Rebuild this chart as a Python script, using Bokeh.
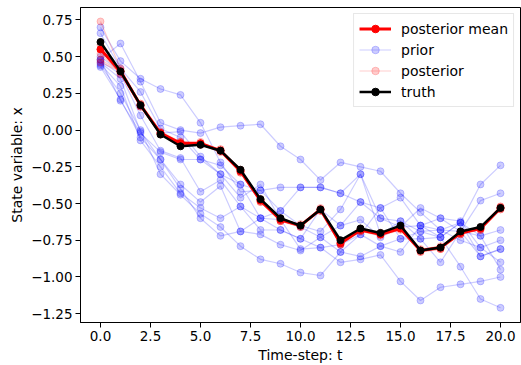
from bokeh.plotting import figure
from bokeh.models import Range1d, FixedTicker, Legend, LegendItem
from bokeh.embed import file_html
from bokeh.resources import INLINE

t = list(range(21))

truth = [0.60, 0.40, 0.17, -0.03, -0.11, -0.10, -0.14, -0.27, -0.47, -0.60, -0.65,
         -0.54, -0.75, -0.67, -0.70, -0.65, -0.82, -0.80, -0.69, -0.66, -0.53]
posterior_mean = [0.55, 0.40, 0.17, -0.02, -0.09, -0.09, -0.14, -0.28, -0.48, -0.61, -0.65,
                  -0.54, -0.77, -0.68, -0.71, -0.67, -0.82, -0.80, -0.70, -0.67, -0.53]

prior_1 = [0.70, 0.47, 0.35, 0.28, 0.24, 0.05, -0.22, -0.42, -0.41, -0.39, -0.39, -0.39, -0.43, -0.49, -0.53, -0.46, -0.65, -0.60, -0.69, -0.48, -0.43]
prior_2 = [0.48, 0.59, 0.33, 0.05, 0.00, -0.02, 0.02, 0.03, 0.04, -0.11, -0.20, -0.34, -0.22, -0.25, -0.28, -0.43, -0.56, -0.68, -0.63, -0.37, -0.24]
prior_3 = [0.66, 0.42, 0.26, 0.01, -0.05, -0.20, -0.24, -0.37, -0.60, -0.55, -0.65, -0.69, -0.54, -0.30, -0.60, -0.62, -0.74, -0.73, -0.63, -0.72, -0.68]
prior_4 = [0.50, 0.40, 0.16, -0.02, -0.01, -0.18, -0.30, -0.46, -0.37, -0.61, -0.66, -0.73, -0.65, -0.61, -0.73, -0.66, -0.53, -0.60, -0.62, -0.80, -0.75]
prior_5 = [0.47, 0.38, 0.10, -0.14, -0.19, -0.42, -0.34, -0.52, -0.68, -0.68, -0.74, -0.80, -0.78, -0.71, -0.53, -0.74, -0.69, -0.68, -0.69, -0.86, -0.81]
prior_6 = [0.46, 0.35, -0.01, -0.20, -0.37, -0.49, -0.38, -0.69, -0.71, -0.78, -0.82, -0.73, -0.83, -0.86, -0.79, -0.83, -0.65, -0.73, -0.93, -1.15, -1.21]
prior_7 = [0.45, 0.30, -0.07, -0.25, -0.43, -0.53, -0.60, -0.52, -0.60, -0.61, -0.81, -0.80, -0.90, -0.88, -0.85, -1.03, -1.16, -1.07, -1.05, -1.03, -1.00]
prior_8 = [0.44, 0.25, 0.00, -0.30, -0.44, -0.57, -0.66, -0.79, -0.88, -0.91, -0.97, -0.99, -0.83, -0.71, -0.79, -0.74, -0.74, -0.90, -0.69, -0.72, -0.95]
prior_9 = [0.43, 0.21, -0.05, -0.20, -0.40, -0.60, -0.72, -0.69, -0.60, -0.68, -0.74, -0.54, -0.65, -0.49, -0.60, -0.66, -0.65, -0.68, -0.75, -0.80, -0.90]
prior_10 = [0.48, 0.20, -0.02, -0.15, -0.20, -0.20, -0.30, -0.37, -0.41, -0.55, -0.39, -0.39, -0.43, -0.30, -0.71, -0.62, -0.69, -0.73, -0.63, -0.86, -0.81]

post_1 = [0.74, 0.42, 0.18, -0.02, -0.08, -0.09, -0.13, -0.27, -0.47, -0.61, -0.64, -0.54, -0.76, -0.67, -0.70, -0.66, -0.81, -0.79, -0.69, -0.66, -0.52]
post_2 = [0.58, 0.41, 0.18, -0.03, -0.10, -0.08, -0.14, -0.29, -0.49, -0.62, -0.66, -0.55, -0.78, -0.69, -0.72, -0.68, -0.83, -0.81, -0.71, -0.68, -0.54]
post_3 = [0.52, 0.39, 0.16, -0.02, -0.09, -0.10, -0.15, -0.28, -0.48, -0.60, -0.65, -0.53, -0.77, -0.68, -0.71, -0.67, -0.82, -0.80, -0.70, -0.67, -0.53]
post_4 = [0.48, 0.40, 0.17, -0.01, -0.08, -0.09, -0.14, -0.27, -0.49, -0.62, -0.66, -0.54, -0.78, -0.68, -0.70, -0.67, -0.83, -0.81, -0.70, -0.68, -0.54]
post_5 = [0.55, 0.38, 0.17, -0.02, -0.09, -0.10, -0.13, -0.28, -0.47, -0.61, -0.65, -0.55, -0.77, -0.69, -0.71, -0.66, -0.82, -0.80, -0.71, -0.67, -0.53]
post_6 = [0.46, 0.40, 0.16, -0.03, -0.10, -0.09, -0.14, -0.29, -0.48, -0.62, -0.65, -0.54, -0.76, -0.68, -0.71, -0.67, -0.82, -0.81, -0.70, -0.67, -0.52]

prior_members = [prior_1, prior_2, prior_3, prior_4, prior_5, prior_6, prior_7, prior_8, prior_9, prior_10]
posterior_members = [post_1, post_2, post_3, post_4, post_5, post_6]

x_ticks = [0, 2.5, 5, 7.5, 10, 12.5, 15, 17.5, 20]
x_tick_labels = ["0.0", "2.5", "5.0", "7.5", "10.0", "12.5", "15.0", "17.5", "20.0"]
y_ticks = [-1.25, -1.0, -0.75, -0.5, -0.25, 0.0, 0.25, 0.5, 0.75]
y_tick_labels = ["\u22121.25", "\u22121.00", "\u22120.75", "\u22120.50", "\u22120.25", "0.00", "0.25", "0.50", "0.75"]

FONT = "DejaVu Sans"

p = figure(width=521, height=365, output_backend="svg", toolbar_location=None,
           x_range=Range1d(-1, 21), y_range=Range1d(-1.31, 0.835),
           min_border_left=80, min_border_right=1, min_border_top=7, min_border_bottom=41)
p.background_fill_color = "white"
p.border_fill_color = "white"
p.outline_line_color = "black"
p.outline_line_width = 1
p.grid.visible = False

for ax, ticks, labels in ((p.xaxis[0], x_ticks, x_tick_labels), (p.yaxis[0], y_ticks, y_tick_labels)):
    ax.ticker = FixedTicker(ticks=ticks)
    ax.major_label_overrides = {tk: lb for tk, lb in zip(ticks, labels)}
    ax.minor_tick_line_color = None
    ax.major_tick_in = 0
    ax.major_tick_out = 5
    ax.major_tick_line_color = "black"
    ax.axis_line_color = "black"
    ax.major_label_text_font = FONT
    ax.major_label_text_font_size = "13.5px"
    ax.major_label_text_color = "black"
    ax.major_label_standoff = 3
    ax.axis_label_text_font = FONT
    ax.axis_label_text_font_size = "14px"
    ax.axis_label_text_font_style = "normal"
    ax.axis_label_text_color = "black"
    ax.axis_label_standoff = 3

p.xaxis.axis_label = "Time-step: t"
p.yaxis.axis_label = "State variable: x"

prior_line = prior_dot = None
for m in prior_members:
    prior_line = p.line(t, m, line_color="blue", line_alpha=0.2, line_width=1.2)
    prior_dot = p.scatter(t, m, marker="circle", size=7, fill_color="blue", fill_alpha=0.2,
                          line_color="blue", line_alpha=0.2)

post_line = post_dot = None
for m in posterior_members:
    post_line = p.line(t, m, line_color="red", line_alpha=0.2, line_width=1.2)
    post_dot = p.scatter(t, m, marker="circle", size=7, fill_color="red", fill_alpha=0.2,
                         line_color="red", line_alpha=0.2)

pm_line = p.line(t, posterior_mean, line_color="red", line_width=3)
pm_dot = p.scatter(t, posterior_mean, marker="circle", size=7, fill_color="red", line_color="red")

tr_line = p.line(t, truth, line_color="black", line_width=2.5)
tr_dot = p.scatter(t, truth, marker="circle", size=7, fill_color="black", line_color="black")

legend = Legend(items=[
    LegendItem(label="posterior mean", renderers=[pm_line, pm_dot]),
    LegendItem(label="prior", renderers=[prior_line, prior_dot]),
    LegendItem(label="posterior", renderers=[post_line, post_dot]),
    LegendItem(label="truth", renderers=[tr_line, tr_dot]),
], location="top_right")
legend.label_text_font = FONT
legend.label_text_font_size = "14px"
legend.label_text_color = "black"
legend.glyph_width = 32
legend.glyph_height = 19
legend.label_height = 19
legend.label_standoff = 10
legend.spacing = 2
legend.padding = 5
legend.margin = 6
legend.border_line_color = "#d0d0d0"
legend.border_line_width = 1
legend.background_fill_color = "white"
legend.background_fill_alpha = 0.8
p.add_layout(legend)

open("out.html", "w").write(file_html(p, INLINE))
